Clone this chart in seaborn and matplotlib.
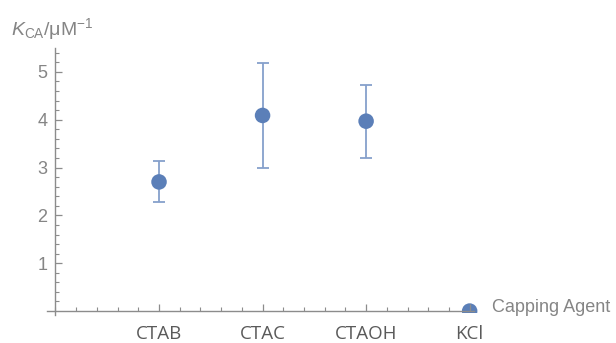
import matplotlib
matplotlib.use("Agg")
import matplotlib.pyplot as plt
import seaborn as sns
import numpy as np
import pandas as pd
from matplotlib.ticker import MultipleLocator, FixedLocator
from matplotlib.patches import Rectangle
from matplotlib.transforms import blended_transform_factory

# ---- data ----
categories = ["CTAB", "CTAC", "CTAOH", "KCl"]
k_ca = [2.70, 4.09, 3.97, 0.0]
k_low = [2.29, 2.99, 3.21, 0.0]
k_high = [3.14, 5.18, 4.73, 0.0]
y_ticks = [1, 2, 3, 4, 5]

df = pd.DataFrame({"agent": categories, "k": k_ca, "lo": k_low, "hi": k_high})

sns.set_style("white")
plt.rcParams["font.family"] = ["Liberation Sans", "DejaVu Sans"]
plt.rcParams["mathtext.fontset"] = "custom"
plt.rcParams["mathtext.rm"] = "Liberation Sans"
plt.rcParams["mathtext.it"] = "Liberation Sans:italic"

marker_c = "#5b7fb8"
err_c = "#86a0cc"
axis_c = "#8c8c8c"
lab_c = "#858585"

fig = plt.figure(figsize=(6.16, 3.43), dpi=100)
ax = fig.add_axes([47.2 / 616, (343 - 312.5) / 343, (480.0 - 47.2) / 616, (312.5 - 48.0) / 343])

ax.errorbar(df["agent"], df["k"],
            yerr=[df["k"] - df["lo"], df["hi"] - df["k"]],
            fmt="none", ecolor=err_c, elinewidth=1.3, capsize=4.6, capthick=1.3, zorder=2)
sns.scatterplot(data=df, x="agent", y="k", ax=ax, color=marker_c, s=125,
                edgecolor="none", zorder=3, legend=False)

ax.set_xlim(-1.08, 3.1)
ax.set_ylim(-0.03, 5.5)

# white band just under the data area, so a marker sitting on the axis shows as a dome
band = Rectangle((0.0, 0.0), 1.0, -0.03, transform=ax.transAxes,
                 facecolor="white", edgecolor="none", zorder=3.5, clip_on=False)
ax.add_patch(band)

for s in ["top", "right"]:
    ax.spines[s].set_visible(False)
ax.spines["left"].set_position(("data", -1))
ax.spines["bottom"].set_position(("data", 0))
ax.spines["left"].set_bounds(-0.09, 5.5)
ax.spines["bottom"].set_bounds(-1.08, 3.04)
for s in ["left", "bottom"]:
    ax.spines[s].set_color(axis_c)
    ax.spines[s].set_linewidth(1.0)
    ax.spines[s].set_zorder(4)

ax.xaxis.set_major_locator(FixedLocator(range(len(categories))))
ax.set_xticklabels(categories, fontfamily="Open Sans", fontsize=13.5, color="#5a5a5a")
ax.xaxis.set_minor_locator(MultipleLocator(0.2))
ax.yaxis.set_major_locator(FixedLocator(y_ticks))
ax.set_yticklabels([str(t) for t in y_ticks], fontsize=13, color=lab_c)
ax.yaxis.set_minor_locator(FixedLocator(np.arange(0.2, 5.45, 0.2)))

ax.tick_params(axis="both", which="both", bottom=True, left=True, top=False, right=False)
ax.tick_params(axis="both", which="major", direction="in", length=5, width=0.9, color=axis_c)
ax.tick_params(axis="both", which="minor", direction="in", length=3, width=0.8, color=axis_c)
ax.tick_params(axis="y", which="major", pad=6)
ax.tick_params(axis="x", which="major", pad=10)
ax.xaxis.set_zorder(4.5)
ax.yaxis.set_zorder(4.5)
ax.set_xlabel("")
ax.set_ylabel("")

ax.annotate("Capping Agent", xy=(1, 0), xycoords=("axes fraction", "data"),
            xytext=(9, 2.5), textcoords="offset points", va="center", ha="left",
            fontsize=13, color=lab_c, annotation_clip=False)
fig.text(11 / 616, 1 - 35 / 343, r"$K_{\mathrm{CA}}$/μM$^{-1}$", fontsize=14,
         color=lab_c, va="baseline", ha="left")

fig.savefig("out.png", dpi=100)
